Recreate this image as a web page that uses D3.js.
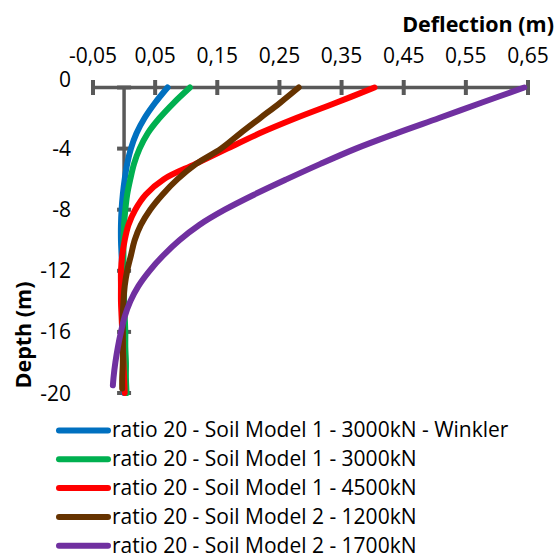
<!DOCTYPE html>
<html>
<head>
<meta charset="utf-8">
<script src="https://cdn.jsdelivr.net/npm/d3@7"></script>
<style>
  body { margin: 0; background: #fff; }
  svg { display: block; font-family: 'Open Sans', sans-serif; }
</style>
</head>
<body>
<svg id="chart" width="558" height="560"></svg>
<script>
// depth (m) of the sample points
const depth = [0, -1, -2, -3, -4, -5, -6, -7, -8, -9, -10, -11, -12, -13, -14, -15, -16, -17, -18, -19, -20];
const depthBrown = [0, -1, -2, -3, -4, -5, -6, -7, -8, -9, -10, -11, -12, -13, -14, -15, -16, -17, -18, -19, -19.7];
const depthPurple = [0, -1, -2, -3, -4, -5, -6, -7, -8, -9, -10, -11, -12, -13, -14, -15, -16, -17, -18, -19, -19.5];

// deflection (m)
const winkler3000 = [0.070, 0.050, 0.033, 0.020, 0.011, 0.005, 0.001, -0.002, -0.004, -0.005, -0.005, -0.004, -0.003, -0.002, -0.001, 0, 0, 0, 0, 0, 0];
const model1_3000 = [0.106, 0.080, 0.057, 0.038, 0.025, 0.016, 0.010, 0.005, 0.002, 0.000, -0.001, -0.001, -0.001, 0.000, 0.000, 0.001, 0.002, 0.002, 0.003, 0.003, 0.004];
const model1_4500 = [0.403, 0.341, 0.277, 0.218, 0.166, 0.115, 0.064, 0.035, 0.018, 0.007, 0.001, -0.003, -0.005, -0.005, -0.005, -0.004, -0.003, -0.002, -0.001, 0.000, 0.001];
const model2_1200 = [0.281, 0.251, 0.219, 0.187, 0.156, 0.116, 0.086, 0.062, 0.042, 0.027, 0.017, 0.011, 0.005, 0.001, -0.001, -0.002, -0.002, -0.002, -0.002, -0.003, -0.003];
const model2_1700 = [0.644, 0.575, 0.507, 0.438, 0.373, 0.316, 0.262, 0.210, 0.162, 0.121, 0.089, 0.063, 0.041, 0.023, 0.010, 0.001, -0.005, -0.010, -0.014, -0.017, -0.018];

const seriesNames = [
  'ratio 20 - Soil Model 1 - 3000kN - Winkler',
  'ratio 20 - Soil Model 1 - 3000kN',
  'ratio 20 - Soil Model 1 - 4500kN',
  'ratio 20 - Soil Model 2 - 1200kN',
  'ratio 20 - Soil Model 2 - 1700kN'
];
const seriesColors = ['#0070C0', '#00B050', '#FF0000', '#663300', '#7030A0'];

const xTicks = [-0.05, 0.05, 0.15, 0.25, 0.35, 0.45, 0.55, 0.65];
const yTicks = [0, -4, -8, -12, -16, -20];

const series = [
  { name: seriesNames[0], color: seriesColors[0], d: depth, v: winkler3000 },
  { name: seriesNames[1], color: seriesColors[1], d: depth, v: model1_3000 },
  { name: seriesNames[2], color: seriesColors[2], d: depth, v: model1_4500 },
  { name: seriesNames[3], color: seriesColors[3], d: depthBrown, v: model2_1200 },
  { name: seriesNames[4], color: seriesColors[4], d: depthPurple, v: model2_1700 }
];

const svg = d3.select('#chart');
const axisColor = '#595959';

const x = d3.scaleLinear().domain([-0.05, 0.65]).range([93, 528]);
const y = d3.scaleLinear().domain([0, -20]).range([87.5, 393]);

const fmt = d3.formatLocale({ decimal: ',', thousands: '.', grouping: [3], currency: ['', ''], minus: '-' }).format('.2f');

// axes
const g = svg.append('g');
g.append('line')
  .attr('x1', x(-0.05)).attr('x2', x(0.65))
  .attr('y1', y(0)).attr('y2', y(0))
  .attr('stroke', axisColor).attr('stroke-width', 3.5);
g.append('line')
  .attr('x1', x(0)).attr('x2', x(0))
  .attr('y1', y(0)).attr('y2', y(-20))
  .attr('stroke', axisColor).attr('stroke-width', 3.5);

g.selectAll('.xtick')
  .data(xTicks).enter().append('line')
  .attr('x1', d => x(d)).attr('x2', d => x(d))
  .attr('y1', y(0) - 7.5).attr('y2', y(0) + 7.5)
  .attr('stroke', axisColor).attr('stroke-width', 4);
g.selectAll('.ytick')
  .data(yTicks).enter().append('line')
  .attr('x1', x(0) - 7).attr('x2', x(0) + 7)
  .attr('y1', d => y(d)).attr('y2', d => y(d))
  .attr('stroke', axisColor).attr('stroke-width', 4);

g.selectAll('.xlabel')
  .data(xTicks).enter().append('text')
  .attr('x', d => x(d)).attr('y', 63)
  .attr('text-anchor', 'middle')
  .style('font-size', '21px')
  .text(d => fmt(d));
g.selectAll('.ylabel')
  .data(yTicks).enter().append('text')
  .attr('x', 71).attr('y', d => y(d) - (d === 0 ? 8 : 0))
  .attr('dy', '0.36em')
  .attr('text-anchor', 'end')
  .style('font-size', '21px')
  .text(d => d);

svg.append('text')
  .attr('x', 554).attr('y', 32)
  .attr('text-anchor', 'end')
  .style('font-size', '21.5px').style('font-weight', 'bold')
  .text('Deflection (m)');
svg.append('text')
  .attr('transform', 'translate(31,335) rotate(-90)')
  .attr('text-anchor', 'middle')
  .style('font-size', '21.5px').style('font-weight', 'bold')
  .text('Depth (m)');

// curves
const line = d3.line()
  .x(p => x(p[1]))
  .y(p => y(p[0]))
  .curve(d3.curveCatmullRom.alpha(0.5));

svg.append('g').selectAll('path')
  .data(series).enter().append('path')
  .attr('d', s => line(s.d.map((dd, i) => [dd, s.v[i]])))
  .attr('fill', 'none')
  .attr('stroke', s => s.color)
  .attr('stroke-width', 6)
  .attr('stroke-linecap', 'round')
  .attr('stroke-linejoin', 'round');

// legend
const leg = svg.append('g');
const rows = leg.selectAll('g').data(series).enter().append('g')
  .attr('transform', (s, i) => `translate(0,${430.5 + i * 28.8})`);
rows.append('line')
  .attr('x1', 59).attr('x2', 108)
  .attr('stroke', s => s.color).attr('stroke-width', 6)
  .attr('stroke-linecap', 'round');
rows.append('text')
  .attr('x', 112).attr('dy', '0.33em')
  .style('font-size', '21px')
  .text(s => s.name);
</script>
</body>
</html>
